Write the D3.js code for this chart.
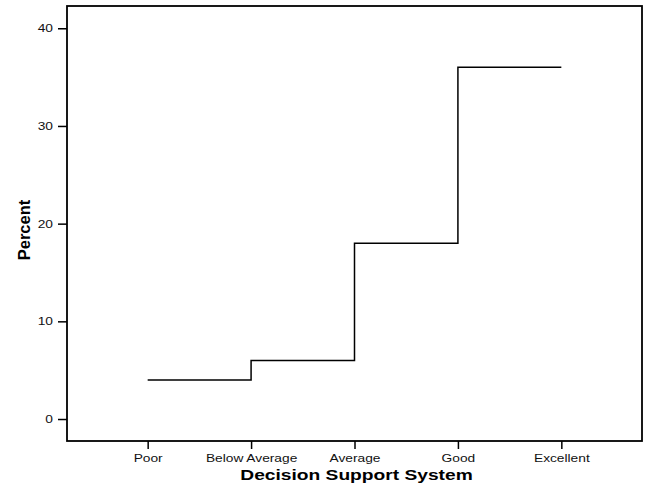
<!DOCTYPE html>
<html>
<head>
<meta charset="utf-8">
<script src="https://cdn.jsdelivr.net/npm/d3@7"></script>
<style>
body { margin: 0; background: #fff; }
svg { display: block; font-family: "Liberation Sans", Arial, sans-serif; }
</style>
</head>
<body>
<svg id="chart" width="649" height="485"></svg>
<script>
var categories = ['Poor', 'Below Average', 'Average', 'Good', 'Excellent'];
var percent = [4, 6, 18, 36, 36];
var yTicks = [0, 10, 20, 30, 40];

var svg = d3.select('#chart');
var plotLeft = 67, plotRight = 642, plotTop = 6, plotBottom = 441;
var stretch = 1.25; // the reference text is drawn a bit wide

var x = d3.scalePoint().domain(categories).range([plotLeft, plotRight]).padding(0.78);
var y = d3.scaleLinear().domain([-2.25, 42.28]).range([plotBottom, plotTop]);

var data = categories.map(function(c, i) { return {cat: c, v: percent[i]}; });

var line_func = d3.line()
    .x(function(d) { return x(d.cat); })
    .y(function(d) { return y(d.v); })
    .curve(d3.curveStepAfter);

svg.append('path')
    .attr('d', line_func(data))
    .attr('stroke', '#000')
    .attr('stroke-width', 1.5)
    .attr('fill', 'none');

svg.append('rect')
    .attr('x', plotLeft).attr('y', plotTop)
    .attr('width', plotRight - plotLeft).attr('height', plotBottom - plotTop)
    .attr('fill', 'none').attr('stroke', '#000').attr('stroke-width', 1.8);

var xAxis = d3.axisBottom(x).tickSize(8).tickSizeOuter(0).tickPadding(5);
var yAxis = d3.axisLeft(y).tickValues(yTicks).tickSize(9).tickSizeOuter(0).tickPadding(4);

var gx = svg.append('g').attr('transform', 'translate(0,' + plotBottom + ')').call(xAxis);
var gy = svg.append('g').attr('transform', 'translate(' + plotLeft + ',0)').call(yAxis);

[gx, gy].forEach(function(g) {
    g.select('.domain').remove();
    g.selectAll('line').attr('stroke', '#000').attr('stroke-width', 1.5);
    g.selectAll('text').attr('font-size', 11).attr('fill', '#111')
        .style('font-family', '"Liberation Sans", Arial, sans-serif');
});
gx.selectAll('text').attr('transform', 'scale(' + stretch + ',1)');
gy.selectAll('text').attr('x', -14 / stretch).attr('transform', 'scale(' + stretch + ',1)');

svg.append('text')
    .attr('transform', 'translate(356.5,480) scale(1.28,1)')
    .attr('text-anchor', 'middle')
    .attr('font-size', 15).attr('font-weight', 'bold')
    .text('Decision Support System');

svg.append('text')
    .attr('transform', 'translate(30,230) rotate(-90)')
    .attr('text-anchor', 'middle')
    .attr('font-size', 16.5).attr('font-weight', 'bold')
    .text('Percent');
</script>
</body>
</html>
